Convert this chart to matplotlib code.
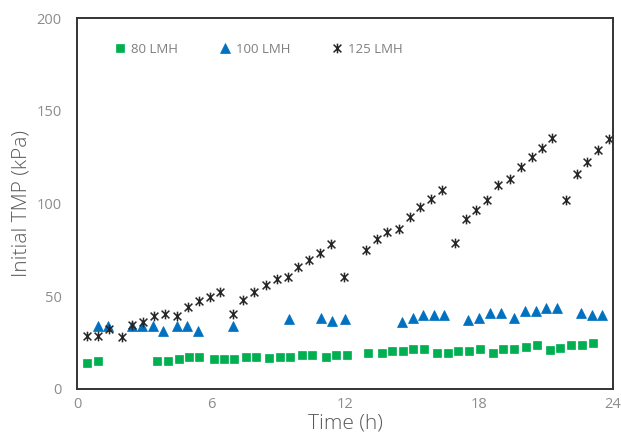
import matplotlib
matplotlib.use("Agg")
import matplotlib.pyplot as plt
from matplotlib.path import Path

# data
t80 = [0.46, 0.95, 3.60, 4.09, 4.57, 5.03, 5.48, 6.14, 6.58, 7.02, 7.55, 8.03,
       8.61, 9.09, 9.54, 10.09, 10.54, 11.14, 11.59, 12.08,
       13.02, 13.65, 14.09, 14.59, 15.06, 15.54, 16.14, 16.60, 17.08, 17.57,
       18.05, 18.62, 19.09, 19.58, 20.09, 20.59, 21.18, 21.63, 22.11, 22.60, 23.09]
tmp80 = [13.9, 15.1, 15.1, 15.1, 16.0, 17.1, 17.1, 16.0, 16.0, 16.0, 17.4, 17.4,
         16.5, 17.1, 17.1, 18.3, 18.3, 17.1, 18.3, 18.3,
         19.6, 19.6, 20.6, 20.6, 21.7, 21.7, 19.6, 19.6, 20.6, 20.6,
         21.7, 19.6, 21.7, 21.7, 22.8, 23.9, 21.0, 22.1, 23.6, 23.6, 24.8]

t100 = [0.95, 1.40, 2.45, 2.90, 3.42, 3.86, 4.46, 4.94, 5.43, 7.00, 9.49, 10.91,
        11.43, 12.02, 14.54, 15.03, 15.51, 15.99, 16.45, 17.52, 18.02, 18.50,
        18.97, 19.57, 20.06, 20.54, 21.00, 21.48, 22.56, 23.05, 23.50]
tmp100 = [34.0, 34.0, 34.0, 34.0, 34.0, 31.4, 34.0, 34.0, 31.4, 34.0, 37.6, 38.4,
          36.7, 37.6, 36.3, 38.4, 39.9, 39.9, 39.9, 37.2, 38.4, 40.8,
          40.8, 38.4, 42.2, 42.2, 43.5, 43.5, 40.8, 39.9, 39.9]

t125 = [0.46, 0.95, 1.43, 2.03, 2.48, 2.97, 3.46, 3.94, 4.46, 4.96, 5.46, 5.96,
        6.40, 7.00, 7.45, 7.94, 8.45, 8.94, 9.46, 9.91, 10.39, 10.88, 11.37, 11.96,
        12.93, 13.42, 13.90, 14.42, 14.91, 15.36, 15.85, 16.36,
        16.93, 17.41, 17.87, 18.35, 18.87, 19.39, 19.87, 20.36, 20.81, 21.29,
        21.90, 22.38, 22.85, 23.32, 23.84]
tmp125 = [28.7, 28.7, 32.5, 28.2, 34.5, 36.3, 39.4, 40.3, 39.4, 44.4, 47.4, 49.8,
          52.1, 40.3, 48.2, 52.1, 56.1, 59.1, 60.4, 65.6, 69.5, 73.5, 78.0, 60.2,
          74.9, 80.7, 84.5, 86.1, 92.9, 98.0, 102.3, 107.3,
          78.9, 91.5, 96.5, 101.9, 110.0, 113.0, 119.5, 124.9, 130.1, 135.5,
          101.9, 115.7, 122.2, 128.8, 134.6]

labels = ["80 LMH", "100 LMH", "125 LMH"]
xticks = [0, 6, 12, 18, 24]
yticks = [0, 50, 100, 150, 200]

plt.rcParams["font.family"] = ["Open Sans", "DejaVu Sans"]

# Excel-style star: an X with a vertical bar
star = Path([(-1, -1), (1, 1), (-1, 1), (1, -1), (0, -1.25), (0, 1.25)],
            [Path.MOVETO, Path.LINETO, Path.MOVETO, Path.LINETO, Path.MOVETO, Path.LINETO])

fig = plt.figure(figsize=(6.21, 4.36), dpi=100)
ax = fig.add_axes([0.124, 0.1078, 0.8631, 0.8509])

ax.plot(t80, tmp80, "s", color="#00B050", markersize=6, markeredgewidth=0.5,
        markeredgecolor="#00B050", label=labels[0])
ax.plot(t100, tmp100, "^", color="#0070C0", markersize=7.5, markeredgewidth=0.5,
        markeredgecolor="#0070C0", label=labels[1])
ax.plot(t125, tmp125, linestyle="none", marker=star, color="#262626", markersize=7,
        markeredgewidth=1.1, label=labels[2])

ax.set_xlim(0, 24)
ax.set_ylim(0, 200)
ax.set_xticks(xticks)
ax.set_yticks(yticks)
ax.tick_params(axis="both", length=0, labelsize=10.5, labelcolor="#8c8c8c")
ax.tick_params(axis="x", pad=6)
ax.tick_params(axis="y", pad=11)
for s in ax.spines.values():
    s.set_linewidth(1.4)
    s.set_color("#333333")

ax.set_xlabel("Time (h)", fontsize=15, color="#595959", fontweight="light")
ax.set_ylabel("Initial TMP (kPa)", fontsize=15, color="#595959", fontweight="light")
ax.xaxis.set_label_coords(0.5, -0.065)
ax.yaxis.set_label_coords(-0.084, 0.5)

ax.legend(loc="center left", bbox_to_anchor=(0.068, 0.916), ncol=3, frameon=False,
          fontsize=9.5, labelcolor="#7f7f7f", handlelength=1.0, handletextpad=0.3,
          columnspacing=3.1, borderaxespad=0, borderpad=0)

fig.savefig("out.png", dpi=100)
